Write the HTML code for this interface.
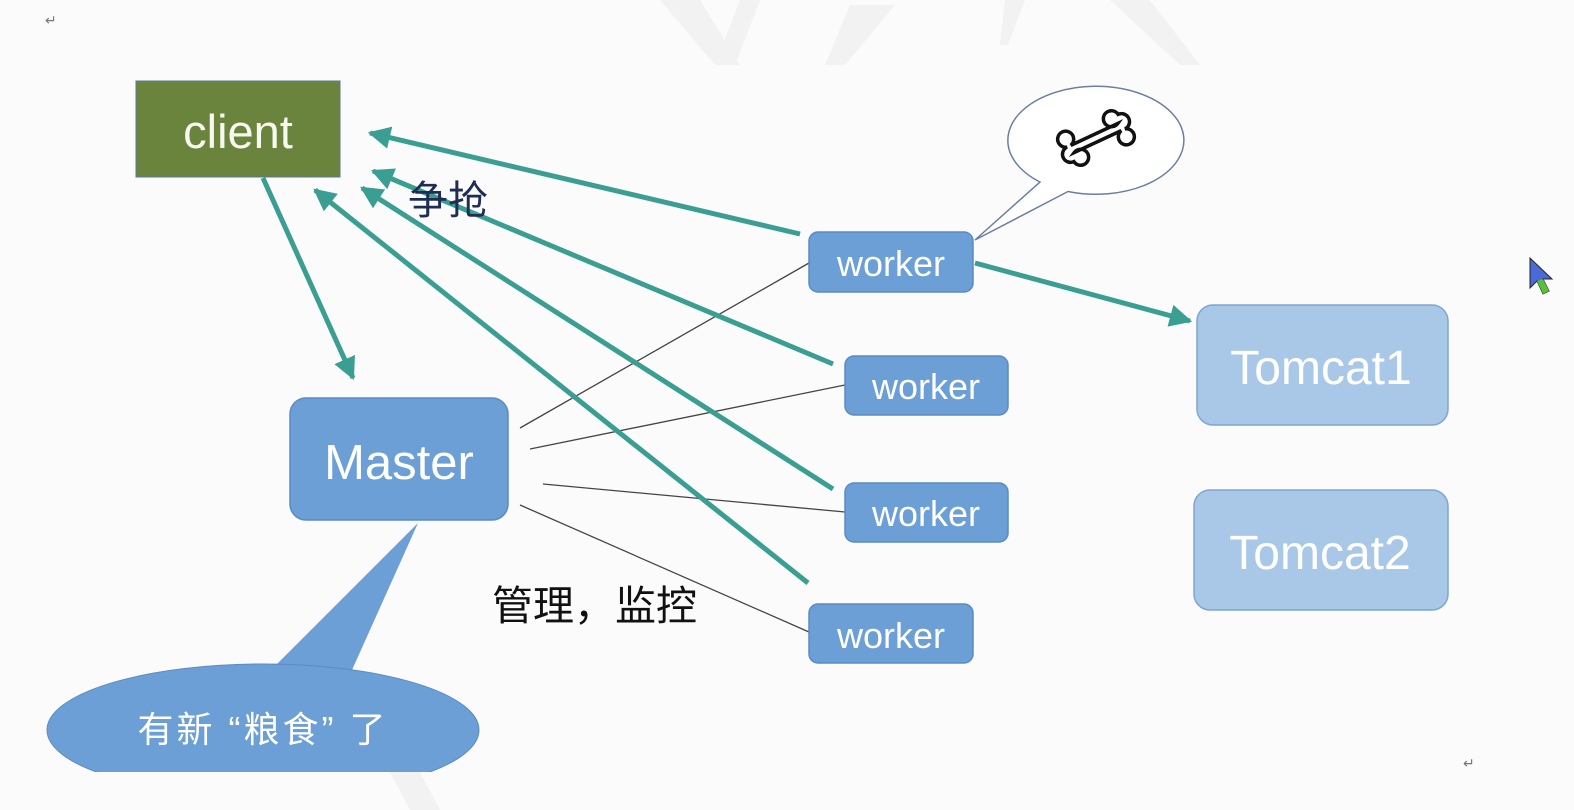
<!DOCTYPE html>
<html><head><meta charset="utf-8"><style>
html,body{margin:0;padding:0;background:#fbfbfb;}
svg{display:block;}
text{font-family:"Liberation Sans","Noto Sans CJK SC",sans-serif;}
</style></head><body>
<svg width="1574" height="810" viewBox="0 0 1574 810" xmlns="http://www.w3.org/2000/svg">
<defs>
<marker id="ah" viewBox="0 0 10 10" refX="9" refY="5" markerWidth="4.5" markerHeight="4.5" orient="auto" markerUnits="strokeWidth">
<path d="M0,0 L10,5 L0,10 z" fill="#3a9e92"/>
</marker>
</defs>
<rect width="1574" height="810" fill="#fbfbfb"/>
<g fill="#f2f2f2">
<polygon points="660,0 700,0 740,65 715,65"/>
<polygon points="760,0 735,65 715,65 740,0"/>
<polygon points="850,5 895,5 845,65 825,65"/>
<polygon points="1005,0 1025,0 1008,45 1000,45"/>
<polygon points="1110,0 1150,0 1200,65 1180,65"/>
<polygon points="390,770 420,770 440,810 410,810"/>
</g>
<text x="45" y="25" font-size="14" fill="#777">↵</text>
<text x="1463" y="768" font-size="14" fill="#777">↵</text>

<g stroke="#444" stroke-width="1.3">
<line x1="520" y1="428" x2="809" y2="263"/>
<line x1="530" y1="449" x2="845" y2="385"/>
<line x1="543" y1="484" x2="845" y2="512"/>
<line x1="520" y1="505" x2="809" y2="632"/>
</g>

<g stroke="#3a9e92" stroke-width="5" fill="none" marker-end="url(#ah)">
<line x1="263" y1="178" x2="353" y2="378"/>
<line x1="800" y1="234" x2="370" y2="133"/>
<line x1="833" y1="364" x2="373" y2="171"/>
<line x1="833" y1="489" x2="362" y2="188"/>
<line x1="808" y1="583" x2="315" y2="190"/>
<line x1="975" y1="263" x2="1190" y2="321"/>
</g>

<rect x="136" y="81" width="204" height="96" fill="#6a843e" stroke="#5a7a9a" stroke-width="1"/>
<text x="238" y="148" font-size="47" fill="#f8f8ee" text-anchor="middle">client</text>

<rect x="290" y="398" width="218" height="122" rx="16" fill="#6b9fd6" stroke="#5a8cc4" stroke-width="1.5"/>
<text x="399" y="479" font-size="49" fill="#fff" text-anchor="middle">Master</text>

<g fill="#6b9fd6" stroke="#5a8cc4" stroke-width="1.5">
<rect x="809" y="232" width="164" height="60" rx="9"/>
<rect x="845" y="356" width="163" height="59" rx="9"/>
<rect x="845" y="483" width="163" height="59" rx="9"/>
<rect x="809" y="604" width="164" height="59" rx="9"/>
</g>
<g font-size="36" fill="#fff" text-anchor="middle">
<text x="891" y="276">worker</text>
<text x="926" y="399">worker</text>
<text x="926" y="526">worker</text>
<text x="891" y="648">worker</text>
</g>

<rect x="1197" y="305" width="251" height="120" rx="16" fill="#a9c8e8" stroke="#7fa6d0" stroke-width="1.5"/>
<rect x="1194" y="490" width="254" height="120" rx="16" fill="#a9c8e8" stroke="#7fa6d0" stroke-width="1.5"/>
<g font-size="48" fill="#fff" text-anchor="middle">
<text x="1321" y="384">Tomcat1</text>
<text x="1320" y="569">Tomcat2</text>
</g>

<text x="408" y="214" font-size="40" fill="#1f2d55">争抢</text>
<text x="492" y="620" font-size="41" fill="#111">管理，监控</text>

<path d="M1040,182 A88,54 0 1 1 1068,191.5 L975,240 Z" fill="#fff" stroke="#6a7fa0" stroke-width="1.5"/>
<g transform="translate(1096,138) rotate(-25)">
<path d="M-26,-4 L26,-4 A8,8 0 1 1 30,-12 A8,8 0 1 1 30,4 A8,8 0 1 1 26,4 L-26,4 A8,8 0 1 1 -30,12 A8,8 0 1 1 -30,-4 A8,8 0 1 1 -26,-4 Z" fill="#fff" stroke="#111" stroke-width="3.5"/>
</g>

<path d="M275,666 L418,523 L352,670 Z" fill="#6b9fd6"/>
<ellipse cx="263" cy="730" rx="216" ry="66" fill="#6b9fd6" stroke="#5a8cc4" stroke-width="1"/>
<rect x="0" y="772" width="600" height="38" fill="#fbfbfb"/>
<polygon points="390,772 420,772 440,810 410,810" fill="#f2f2f2"/>
<text x="263" y="742" font-size="36" fill="#fff" text-anchor="middle" letter-spacing="3">有新 “粮食” 了</text>

<g transform="translate(1530,258)">
<path d="M0,0 L0,30 L7,23 L13,36 L19,33 L13,21 L22,21 Z" fill="#4a6ad8" stroke="#222" stroke-width="1"/>
<path d="M7,23 L13,36 L19,33 L13,21 Z" fill="#5ac03a"/>
</g>
</svg>
</body></html>
